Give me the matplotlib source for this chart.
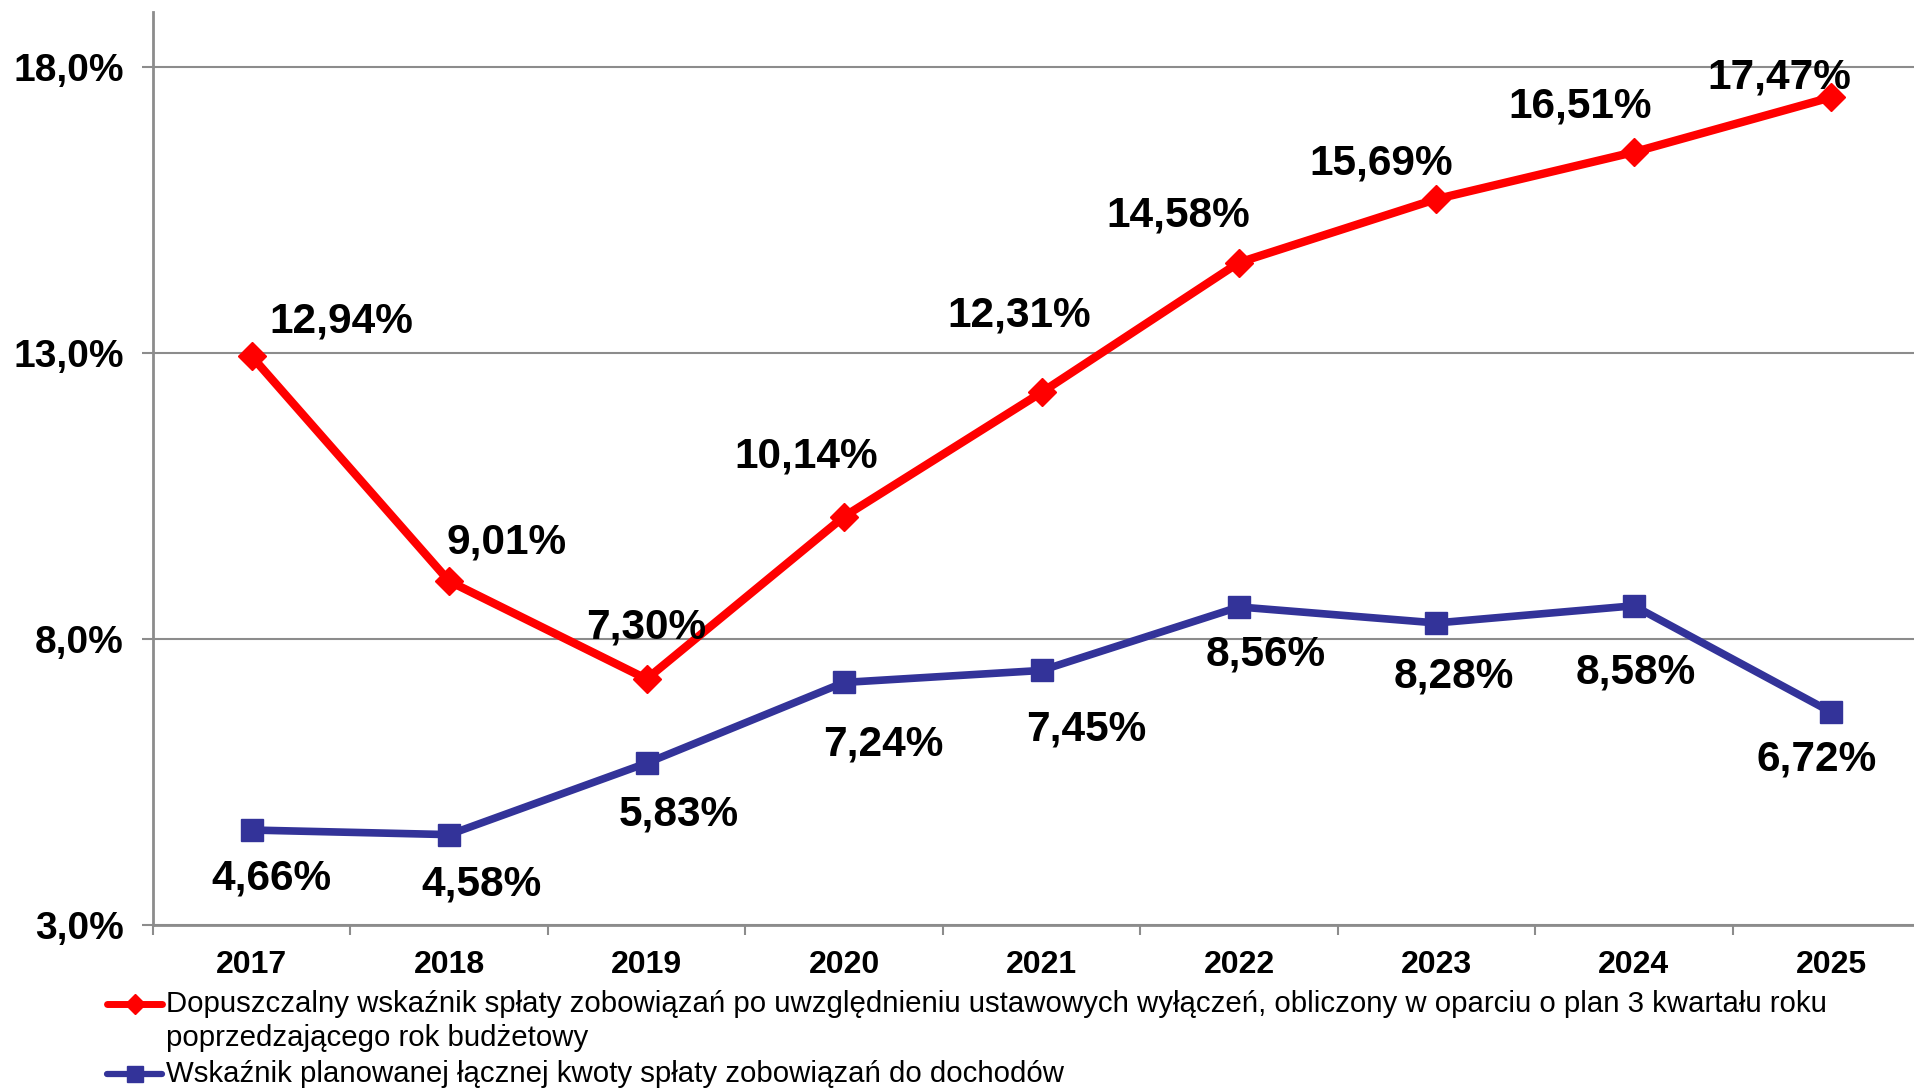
import matplotlib
matplotlib.use("Agg")
import matplotlib.pyplot as plt
from matplotlib.ticker import FixedLocator, NullFormatter
from matplotlib.lines import Line2D

years = ["2017", "2018", "2019", "2020", "2021", "2022", "2023", "2024", "2025"]
red_values = [12.94, 9.01, 7.30, 10.14, 12.31, 14.58, 15.69, 16.51, 17.47]
blue_values = [4.66, 4.58, 5.83, 7.24, 7.45, 8.56, 8.28, 8.58, 6.72]
y_ticks = [3.0, 8.0, 13.0, 18.0]
red_label = ("Dopuszczalny wskaźnik spłaty zobowiązań po uwzględnieniu ustawowych wyłączeń, "
             "obliczony w oparciu o plan 3 kwartału roku\npoprzedzającego rok budżetowy")
blue_label = "Wskaźnik planowanej łącznej kwoty spłaty zobowiązań do dochodów"

# label offsets in pixels (style only)
red_off = [(90, 35), (57, 39), (0, 52), (-38, 60), (-22, 77), (-61, 47), (-55, 36), (-54, 46), (-52, 20)]
blue_off = [(20, -48), (32, -50), (32, -51), (39, -62), (45, -59), (27, -48), (17, -54), (2, -67), (-15, -47)]

RED = "#FF0000"
BLUE = "#333399"
GRID = "#8C8C8C"
sans = ["Liberation Sans", "DejaVu Sans"]

W, H = 1914, 1091
fig = plt.figure(figsize=(W / 100, H / 100), dpi=100)
ax = fig.add_axes([153 / W, 166 / H, 1777 / W, 913 / H])

x = list(range(len(years)))
ax.plot(x, red_values, color=RED, lw=6, marker="D", ms=14, mfc=RED, mec=RED, zorder=4)
ax.plot(x, blue_values, color=BLUE, lw=5.5, marker="s", ms=16, mfc=BLUE, mec=BLUE, zorder=3)

for i, v in enumerate(red_values):
    ax.annotate(f"{v:.2f}%".replace(".", ","), (i, v), xytext=red_off[i], textcoords="offset pixels",
                ha="center", va="center", fontsize=30.5, fontweight="bold", family=sans, color="black", zorder=6)
for i, v in enumerate(blue_values):
    ax.annotate(f"{v:.2f}%".replace(".", ","), (i, v), xytext=blue_off[i], textcoords="offset pixels",
                ha="center", va="center", fontsize=30.5, fontweight="bold", family=sans, color="black", zorder=6)

ax.set_xlim(-0.5, len(years) - 0.5)
ax.set_ylim(3.0, 18.96)

ax.set_yticks(y_ticks)
ax.set_yticklabels([f"{t:.1f}%".replace(".", ",") for t in y_ticks], fontsize=28, fontweight="bold",
                   family=sans)
ax.yaxis.grid(True, color=GRID, lw=1.5)
ax.set_axisbelow(True)
ax.tick_params(axis="y", length=8, width=1.5, color=GRID, pad=13, direction="out")

ax.xaxis.set_major_locator(FixedLocator([i - 0.5 for i in range(len(years) + 1)]))
ax.xaxis.set_major_formatter(NullFormatter())
ax.xaxis.set_minor_locator(FixedLocator(x))
ax.set_xticklabels(years, minor=True, fontsize=23, fontweight="bold", family=sans)
ax.tick_params(axis="x", which="major", length=7, width=1.5, color=GRID, direction="out")
ax.tick_params(axis="x", which="minor", length=0, pad=18)

for s in ["top", "right"]:
    ax.spines[s].set_visible(False)
for s in ["left", "bottom"]:
    ax.spines[s].set_color(GRID)
    ax.spines[s].set_linewidth(2)

# legend (drawn manually so the handle aligns with the first text line)
def fx(px):
    return px / W

def fy(py):
    return 1 - py / H

for (yc, col, mk, ms, lw, label, ty) in [
    (1004, RED, "D", 10, 5, red_label, 1021),
    (1074, BLUE, "s", 12, 4.5, blue_label, 1074),
]:
    fig.add_artist(Line2D([fx(107), fx(162)], [fy(yc), fy(yc)], color=col, lw=lw,
                          solid_capstyle="round", transform=fig.transFigure))
    fig.add_artist(Line2D([fx(135)], [fy(yc)], color=col, marker=mk, ms=ms, mfc=col, mec=col,
                          transform=fig.transFigure))
    fig.text(fx(166), fy(ty), label, ha="left", va="center", fontsize=21.2, family=sans,
             linespacing=1.28, color="black")

fig.savefig("out.png", dpi=100, facecolor="white")
